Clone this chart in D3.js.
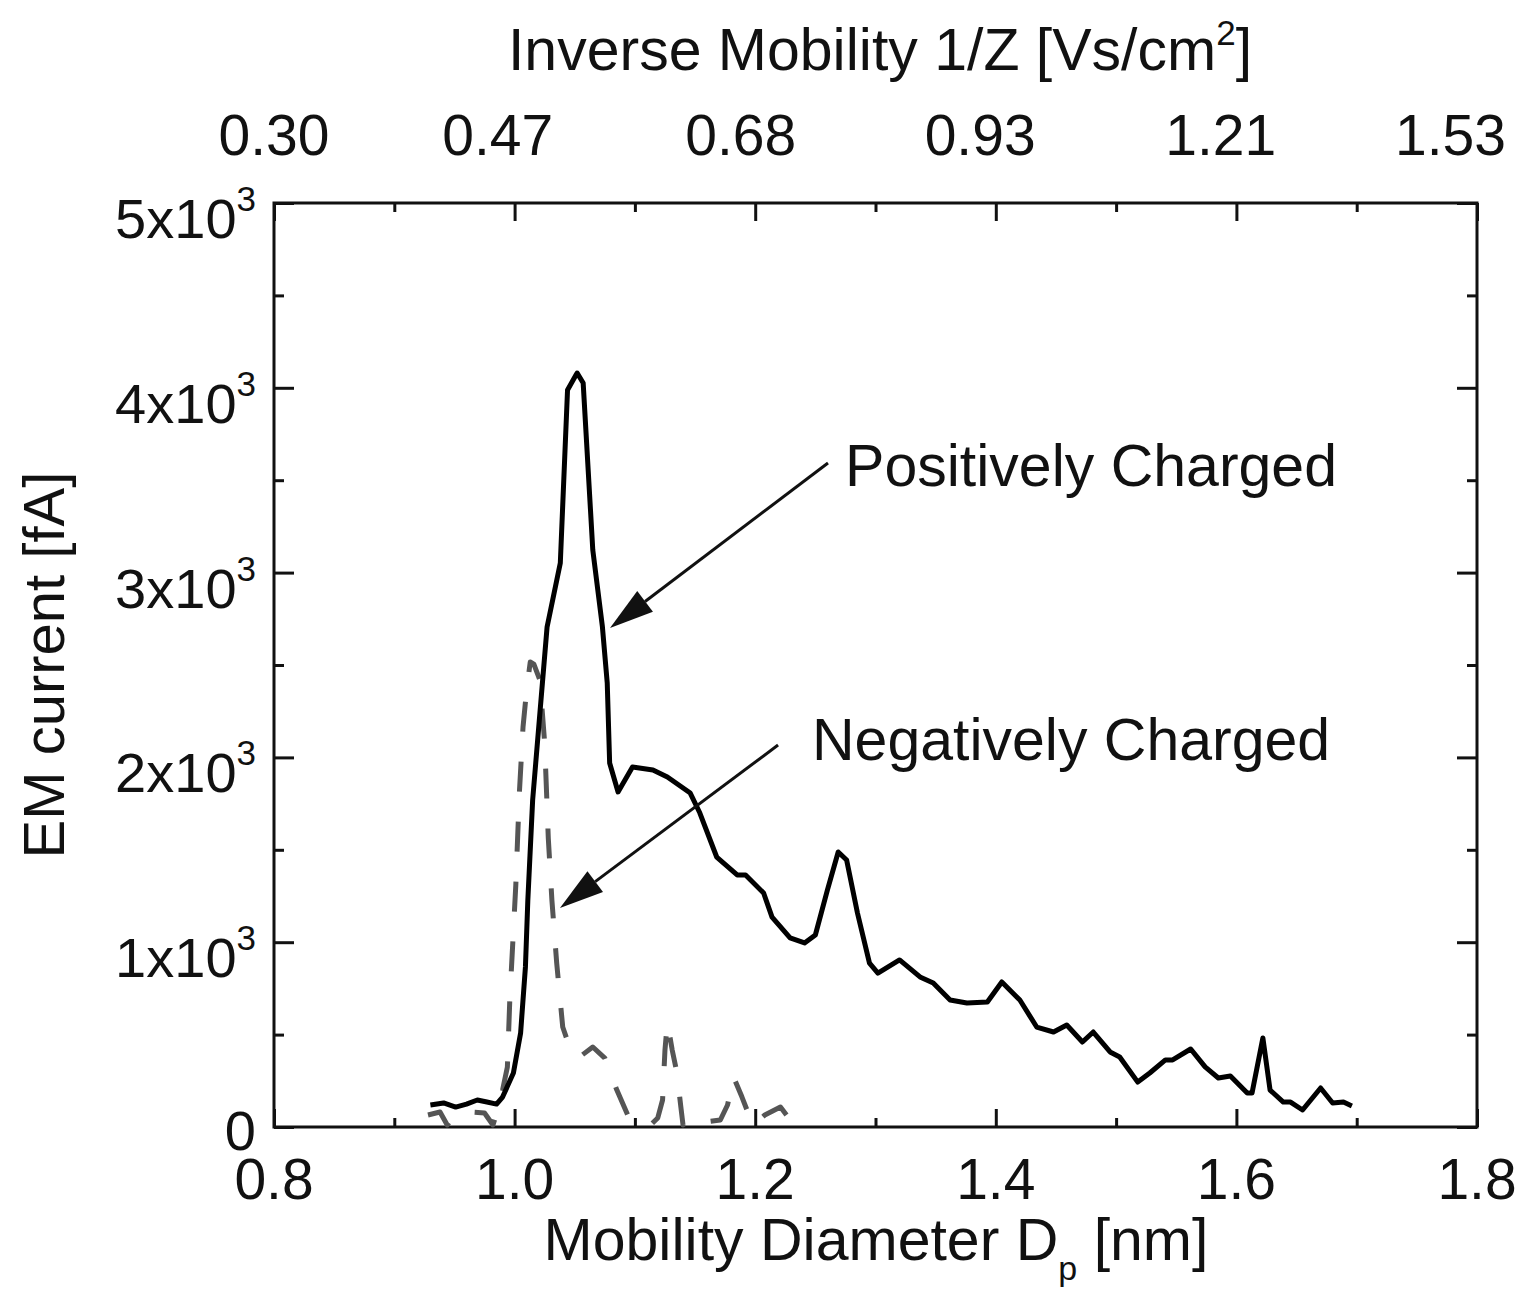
<!DOCTYPE html>
<html>
<head>
<meta charset="utf-8">
<script src="https://cdn.jsdelivr.net/npm/d3@7.9.0/dist/d3.min.js"></script>
<style>
  body { margin: 0; background: #fff; }
  svg text { font-family: "Liberation Sans", Arial, sans-serif; fill: #111; }
</style>
</head>
<body>
<div id="chart"></div>
<script>
// Positively charged spectrum: mobility diameter [nm] and EM current [fA]
const posD = [0.930, 0.941, 0.951, 0.960, 0.969, 0.977, 0.985, 0.990, 0.999, 1.005, 1.009, 1.011,
  1.015, 1.027, 1.038, 1.044, 1.051, 1.052, 1.057, 1.065, 1.073, 1.077, 1.079, 1.086, 1.098, 1.115,
  1.127, 1.146, 1.154, 1.168, 1.185, 1.192, 1.207, 1.214, 1.229, 1.241, 1.250, 1.260, 1.269, 1.276,
  1.285, 1.295, 1.302, 1.320, 1.337, 1.348, 1.362, 1.376, 1.393, 1.405, 1.420, 1.434, 1.448, 1.459,
  1.472, 1.481, 1.495, 1.503, 1.518, 1.528, 1.541, 1.547, 1.562, 1.574, 1.585, 1.595, 1.609, 1.613,
  1.622, 1.628, 1.639, 1.645, 1.655, 1.670, 1.680, 1.689, 1.696];
const posI = [119, 130, 108, 124, 146, 135, 124, 162, 292, 509, 866, 1228,
  1769, 2706, 3052, 3988, 4069, 4080, 4026, 3122, 2706, 2403, 1970, 1813, 1948, 1932,
  1894, 1807, 1699, 1461, 1364, 1364, 1266, 1136, 1023, 996, 1039, 1282, 1488, 1445,
  1158, 887, 833, 904, 812, 779, 687, 671, 676, 785, 687, 541, 514, 552,
  460, 514, 406, 379, 243, 292, 363, 363, 422, 325, 265, 276, 184, 184,
  482, 200, 135, 135, 92, 211, 130, 135, 114];

// Negatively charged spectrum
const negD = [0.928, 0.938, 0.944, 0.950, 0.963, 0.975, 0.982, 0.986, 0.990, 0.994, 0.996, 1.001,
  1.004, 1.007, 1.010, 1.013, 1.016, 1.021, 1.025, 1.028, 1.031, 1.035, 1.040, 1.048, 1.054, 1.065,
  1.075, 1.085, 1.094, 1.102, 1.113, 1.119, 1.123, 1.125, 1.127, 1.131, 1.135, 1.138, 1.140, 1.148,
  1.158, 1.171, 1.177, 1.182, 1.189, 1.198, 1.208, 1.221, 1.226];
const negI = [65, 81, 11, 65, 81, 76, 11, 92, 200, 325, 687, 1309,
  1813, 2164, 2365, 2516, 2505, 2419, 2078, 1564, 1228, 887, 541, 390, 379, 433,
  373, 200, 65, 11, 11, 49, 146, 417, 568, 417, 292, 119, 11, 54,
  27, 38, 119, 271, 162, 11, 65, 108, 65];

// Axis ticks and labels
const xMajor = [0.8, 1.0, 1.2, 1.4, 1.6, 1.8];
const xMinor = [0.9, 1.1, 1.3, 1.5, 1.7];
const yMajor = [0, 1000, 2000, 3000, 4000, 5000];
const yMinor = [500, 1500, 2500, 3500, 4500];
const yLabels = ["0", "1x10", "2x10", "3x10", "4x10", "5x10"];
const topLabels = ["0.30", "0.47", "0.68", "0.93", "1.21", "1.53"];
const topLabelPos = [0.800, 0.986, 1.188, 1.387, 1.587, 1.778];

const width = 1523, height = 1312;
const margin = { top: 203, right: 46, bottom: 185, left: 274 };
const plot = {
  left: margin.left,
  right: width - margin.right,
  top: margin.top,
  bottom: height - margin.bottom,
};

const svg = d3.select('#chart').append('svg')
  .attr('width', width)
  .attr('height', height)
  .attr('viewBox', `0 0 ${width} ${height}`);

const x = d3.scaleLinear().domain([0.8, 1.8]).range([plot.left, plot.right]);
const y = d3.scaleLinear().domain([0, 5000]).range([plot.bottom, plot.top]);

// ticks (all pointing inward)
function tickAxis(axisFn, scale, values, size, transform) {
  const g = svg.append('g')
    .attr('transform', transform)
    .call(axisFn(scale).tickValues(values).tickSize(-size).tickFormat(''));
  g.select('.domain').remove();
  g.selectAll('.tick line').attr('stroke', '#111').attr('stroke-width', 3);
  return g;
}

tickAxis(d3.axisBottom, x, xMajor, 18, `translate(0,${plot.bottom})`);
tickAxis(d3.axisBottom, x, xMinor, 9, `translate(0,${plot.bottom})`);
tickAxis(d3.axisTop, x, xMajor, 18, `translate(0,${plot.top})`);
tickAxis(d3.axisTop, x, xMinor, 9, `translate(0,${plot.top})`);
tickAxis(d3.axisLeft, y, yMajor, 20, `translate(${plot.left},0)`);
tickAxis(d3.axisLeft, y, yMinor, 10, `translate(${plot.left},0)`);
tickAxis(d3.axisRight, y, yMajor, 20, `translate(${plot.right},0)`);
tickAxis(d3.axisRight, y, yMinor, 10, `translate(${plot.right},0)`);

// frame
svg.append('rect')
  .attr('x', plot.left)
  .attr('y', plot.top)
  .attr('width', plot.right - plot.left)
  .attr('height', plot.bottom - plot.top)
  .attr('fill', 'none')
  .attr('stroke', '#111')
  .attr('stroke-width', 3);

// bottom tick labels
svg.append('g').selectAll('text')
  .data(xMajor)
  .join('text')
  .attr('x', (d) => x(d))
  .attr('y', plot.bottom + 72)
  .attr('text-anchor', 'middle')
  .style('font-size', '57px')
  .text((d) => d.toFixed(1));

// top tick labels (inverse mobility)
svg.append('g').selectAll('text')
  .data(topLabels)
  .join('text')
  .attr('x', (d, i) => x(topLabelPos[i]))
  .attr('y', 155)
  .attr('text-anchor', 'middle')
  .style('font-size', '57px')
  .text((d) => d);

// left tick labels with superscript exponent
const yl = svg.append('g').selectAll('text')
  .data(yMajor)
  .join('text')
  .attr('x', 256)
  .attr('y', (d) => y(d) + (d === 0 ? 23 : 35))
  .attr('text-anchor', 'end')
  .style('font-size', '56px');
yl.each(function (d, i) {
  const t = d3.select(this);
  t.append('tspan').text(yLabels[i]);
  if (d !== 0) {
    t.append('tspan').attr('dy', -27).style('font-size', '35px').text('3');
  }
});

// axis titles
const bt = svg.append('text')
  .attr('x', 876)
  .attr('y', 1260)
  .attr('text-anchor', 'middle')
  .style('font-size', '59px');
bt.append('tspan').text('Mobility Diameter D');
bt.append('tspan').attr('dy', 20).style('font-size', '34px').text('p');
bt.append('tspan').attr('dy', -20).text(' [nm]');

const tt = svg.append('text')
  .attr('x', 880)
  .attr('y', 70)
  .attr('text-anchor', 'middle')
  .style('font-size', '59px');
tt.append('tspan').text('Inverse Mobility 1/Z [Vs/cm');
tt.append('tspan').attr('dy', -25).style('font-size', '35px').text('2');
tt.append('tspan').attr('dy', 25).text(']');

svg.append('text')
  .attr('transform', `translate(64,${(plot.top + plot.bottom) / 2}) rotate(-90)`)
  .attr('text-anchor', 'middle')
  .style('font-size', '58px')
  .text('EM current [fA]');

// series
const line = d3.line().x((d) => x(d[0])).y((d) => y(d[1]));

svg.append('path')
  .datum(d3.zip(negD, negI))
  .attr('fill', 'none')
  .attr('stroke', '#555')
  .attr('stroke-width', 5)
  .attr('stroke-dasharray', '30,30')
  .attr('stroke-linejoin', 'round')
  .attr('d', line);

svg.append('path')
  .datum(d3.zip(posD, posI))
  .attr('fill', 'none')
  .attr('stroke', '#000')
  .attr('stroke-width', 5)
  .attr('stroke-linejoin', 'round')
  .attr('d', line);

// annotations
const arrows = [
  { label: 'Positively Charged', from: [1.2605, 3593], to: [1.0793, 2700], text: [1.2747, 3469] },
  { label: 'Negatively Charged', from: [1.219, 2067], to: [1.0377, 1185], text: [1.2472, 1986] },
];

arrows.forEach((a) => {
  const x0 = x(a.from[0]), y0 = y(a.from[1]);
  const x1 = x(a.to[0]), y1 = y(a.to[1]);
  const ang = Math.atan2(y1 - y0, x1 - x0);
  const len = 44, half = 13;
  const bx = x1 - len * Math.cos(ang), by = y1 - len * Math.sin(ang);
  svg.append('line')
    .attr('x1', x0).attr('y1', y0)
    .attr('x2', bx).attr('y2', by)
    .attr('stroke', '#111')
    .attr('stroke-width', 3);
  svg.append('path')
    .attr('d', `M${x1},${y1}L${bx + half * Math.sin(ang)},${by - half * Math.cos(ang)}L${bx - half * Math.sin(ang)},${by + half * Math.cos(ang)}Z`)
    .attr('fill', '#111');
  svg.append('text')
    .attr('x', x(a.text[0]))
    .attr('y', y(a.text[1]))
    .style('font-size', '59px')
    .text(a.label);
});
</script>
</body>
</html>
